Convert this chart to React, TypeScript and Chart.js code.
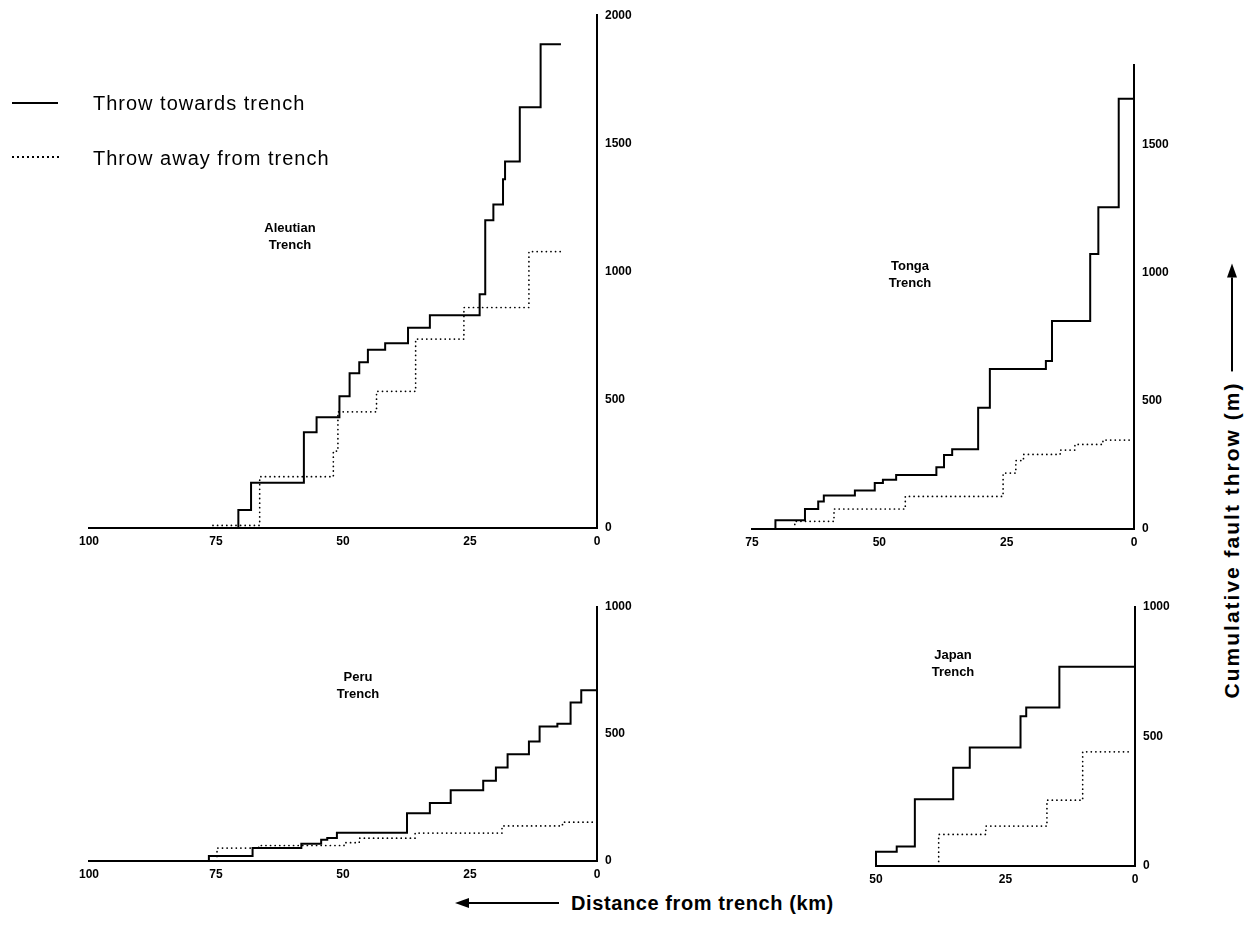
import React, { useEffect, useRef } from "react";
import { Chart, registerables } from "chart.js";

Chart.register(...registerables);

// ---------------- data ----------------
// Each series: distance (km) where a step starts, and cumulative throw (m) from that point on.
const aleutianSolidKm = [100, 70.6, 68.1, 57.7, 55.2, 50.7, 48.7, 46.8, 45.1, 41.7, 37.2, 32.9, 23.1, 22.0, 20.4, 18.5, 18.1, 15.2, 11.1, 7.1];
const aleutianSolidM = [0, 70, 176, 373, 432, 514, 604, 646, 695, 721, 781, 830, 912, 1200, 1262, 1360, 1429, 1641, 1887, 1887];
const aleutianDotKm = [76, 76, 66.4, 51.9, 51.0, 43.4, 35.7, 26.2, 13.4, 6.8];
const aleutianDotM = [0, 10, 200, 300, 453, 533, 737, 860, 1078, 1078];

const tongaSolidKm = [75, 70.4, 64.6, 62.0, 60.9, 54.8, 50.9, 49.3, 46.7, 38.8, 37.3, 35.7, 30.6, 28.3, 17.3, 16.1, 8.6, 7.0, 3.0, 0];
const tongaSolidM = [0, 34, 78, 107, 131, 150, 179, 192, 211, 241, 289, 311, 473, 624, 655, 811, 1073, 1255, 1678, 1678];
const tongaDotKm = [66.6, 66.6, 58.9, 44.9, 25.7, 23.2, 21.7, 14.5, 11.6, 6.1, 0.7];
const tongaDotM = [0, 30, 78, 127, 218, 267, 291, 308, 330, 347, 347];

const peruSolidKm = [100, 76.4, 67.8, 58.2, 54.3, 53.1, 51.2, 37.4, 32.9, 28.8, 22.4, 19.9, 17.6, 13.4, 11.3, 7.8, 5.2, 3.1, 0];
const peruSolidM = [0, 20, 51, 68, 84, 91, 111, 188, 228, 279, 316, 368, 420, 470, 530, 540, 624, 672, 672];
const peruDotKm = [74.8, 74.8, 66.6, 49.8, 46.8, 35.8, 18.7, 6.8, 0];
const peruDotM = [0, 51, 61, 72, 90, 110, 138, 153, 153];

const japanSolidKm = [50, 50, 46.0, 42.5, 35.1, 31.9, 22.1, 21.0, 14.6, 0];
const japanSolidM = [0, 55, 75, 258, 379, 458, 578, 612, 769, 769];
const japanDotKm = [37.9, 37.9, 28.8, 17.0, 10.1, 0.6];
const japanDotM = [0, 122, 154, 254, 441, 441];

const aleutianXTicks = [0, 25, 50, 75, 100];
const aleutianYTicks = [0, 500, 1000, 1500, 2000];
const tongaXTicks = [0, 25, 50, 75];
const tongaYTicks = [0, 500, 1000, 1500];
const peruXTicks = [0, 25, 50, 75, 100];
const peruYTicks = [0, 500, 1000];
const japanXTicks = [0, 25, 50];
const japanYTicks = [0, 500, 1000];

const aleutianTitle = ["Aleutian", "Trench"];
const tongaTitle = ["Tonga", "Trench"];
const peruTitle = ["Peru", "Trench"];
const japanTitle = ["Japan", "Trench"];

const legendLabels = ["Throw towards trench", "Throw away from trench"];
const xAxisTitle = "Distance from trench (km)";
const yAxisTitle = "Cumulative fault throw (m)";

// ---------------- helpers ----------------
const FONT = '"Liberation Sans", Arial, Helvetica, sans-serif';

function toPoints(km: number[], m: number[]) {
  return km.map((k, i) => ({ x: k, y: m[i] }));
}

type PanelProps = {
  solidKm: number[];
  solidM: number[];
  dotKm: number[];
  dotM: number[];
  xTicks: number[];
  yTicks: number[];
  xMax: number;
  yMax: number;
  left: number;
  top: number;
  width: number;
  height: number;
  padLeft: number;
  padTop: number;
};

function Panel(p: PanelProps) {
  const ref = useRef<HTMLCanvasElement | null>(null);
  useEffect(() => {
    if (!ref.current) return;
    const tickFont = { family: FONT, size: 12, weight: "bold" as const };
    const chart = new Chart(ref.current, {
      type: "line",
      data: {
        datasets: [
          {
            label: legendLabels[0],
            data: toPoints(p.solidKm, p.solidM),
            stepped: "before",
            borderColor: "#000",
            borderWidth: 2,
            pointRadius: 0,
            fill: false,
            clip: false as any,
          },
          {
            label: legendLabels[1],
            data: toPoints(p.dotKm, p.dotM),
            stepped: "before",
            borderColor: "#000",
            borderWidth: 1.7,
            borderDash: [0.1, 4.5],
            borderCapStyle: "round",
            pointRadius: 0,
            fill: false,
            clip: false as any,
          },
        ],
      },
      options: {
        animation: false,
        responsive: false,
        maintainAspectRatio: false,
        events: [],
        layout: { padding: { left: p.padLeft, top: p.padTop, right: 0, bottom: 0 } },
        plugins: { legend: { display: false }, tooltip: { enabled: false } },
        scales: {
          x: {
            type: "linear",
            reverse: true,
            min: 0,
            max: p.xMax,
            grid: { display: false, drawTicks: false },
            border: { display: true, color: "#000", width: 2 },
            ticks: {
              padding: 6,
              color: "#000",
              font: tickFont,
              maxRotation: 0,
              autoSkip: false,
              callback: (v: any) => String(v),
            },
            afterBuildTicks: (s: any) => {
              s.ticks = p.xTicks.map((v) => ({ value: v }));
            },
            afterFit: (s: any) => {
              s.height = 25;
            },
          },
          y: {
            type: "linear",
            position: "right",
            min: 0,
            max: p.yMax,
            grid: { display: false, drawTicks: false },
            border: { display: true, color: "#000", width: 2 },
            ticks: {
              padding: 8,
              color: "#000",
              font: tickFont,
              autoSkip: false,
              callback: (v: any) => String(v),
            },
            afterBuildTicks: (s: any) => {
              s.ticks = p.yTicks.map((v) => ({ value: v }));
            },
            afterFit: (s: any) => {
              s.width = 45;
            },
          },
        },
      },
    } as any);
    return () => chart.destroy();
  }, []);
  return (
    <canvas
      ref={ref}
      width={p.width}
      height={p.height}
      style={{ position: "absolute", left: p.left, top: p.top, width: p.width, height: p.height, display: "block" }}
    />
  );
}

function Title({ lines, cx, cy }: { lines: string[]; cx: number; cy: number }) {
  return (
    <div
      style={{
        position: "absolute",
        left: cx - 60,
        top: cy - 17,
        width: 120,
        textAlign: "center",
        fontFamily: FONT,
        fontWeight: "bold",
        fontSize: 13,
        lineHeight: "17px",
        color: "#000",
      }}
    >
      {lines.map((l, i) => (
        <div key={i}>{l}</div>
      ))}
    </div>
  );
}

export default function App() {
  return (
    <div
      style={{
        position: "absolute",
        left: 0,
        top: 0,
        width: 1249,
        height: 940,
        background: "#fff",
        overflow: "hidden",
        fontFamily: FONT,
      }}
    >
      {/* Aleutian: plot area x 89..597, y 15..528 */}
      <Panel
        solidKm={aleutianSolidKm}
        solidM={aleutianSolidM}
        dotKm={aleutianDotKm}
        dotM={aleutianDotM}
        xTicks={aleutianXTicks}
        yTicks={aleutianYTicks}
        xMax={100}
        yMax={2000}
        left={75}
        top={0}
        width={567}
        height={553}
        padLeft={14}
        padTop={15}
      />
      {/* Tonga: plot area x 752..1134, y 65..529 */}
      <Panel
        solidKm={tongaSolidKm}
        solidM={tongaSolidM}
        dotKm={tongaDotKm}
        dotM={tongaDotM}
        xTicks={tongaXTicks}
        yTicks={tongaYTicks}
        xMax={75}
        yMax={1810}
        left={737}
        top={40}
        width={442}
        height={514}
        padLeft={15}
        padTop={25}
      />
      {/* Peru: plot area x 89..597, y 607..861 */}
      <Panel
        solidKm={peruSolidKm}
        solidM={peruSolidM}
        dotKm={peruDotKm}
        dotM={peruDotM}
        xTicks={peruXTicks}
        yTicks={peruYTicks}
        xMax={100}
        yMax={1000}
        left={75}
        top={590}
        width={567}
        height={296}
        padLeft={14}
        padTop={17}
      />
      {/* Japan: plot area x 876..1135, y 607..866 */}
      <Panel
        solidKm={japanSolidKm}
        solidM={japanSolidM}
        dotKm={japanDotKm}
        dotM={japanDotM}
        xTicks={japanXTicks}
        yTicks={japanYTicks}
        xMax={50}
        yMax={1000}
        left={860}
        top={590}
        width={320}
        height={301}
        padLeft={16}
        padTop={17}
      />

      <Title lines={aleutianTitle} cx={290} cy={236} />
      <Title lines={tongaTitle} cx={910} cy={274} />
      <Title lines={peruTitle} cx={358} cy={685} />
      <Title lines={japanTitle} cx={953} cy={663} />

      {/* legend */}
      <div style={{ position: "absolute", left: 12, top: 102, width: 46, height: 0, borderTop: "2px solid #000" }} />
      <div
        style={{
          position: "absolute",
          left: 12,
          top: 156,
          width: 48,
          height: 2,
          backgroundImage: "repeating-linear-gradient(to right, #000 0px, #000 1.6px, transparent 1.6px, transparent 5px)",
        }}
      />
      <div
        style={{
          position: "absolute",
          left: 93,
          top: 91,
          fontSize: 20,
          lineHeight: "24px",
          letterSpacing: "1px",
          color: "#000",
          whiteSpace: "nowrap",
        }}
      >
        {legendLabels[0]}
      </div>
      <div
        style={{
          position: "absolute",
          left: 93,
          top: 146,
          fontSize: 20,
          lineHeight: "24px",
          letterSpacing: "1px",
          color: "#000",
          whiteSpace: "nowrap",
        }}
      >
        {legendLabels[1]}
      </div>

      {/* x axis title with arrow */}
      <div
        style={{
          position: "absolute",
          left: 455,
          top: 891,
          height: 24,
          display: "flex",
          alignItems: "center",
          whiteSpace: "nowrap",
        }}
      >
        <div
          style={{
            width: 0,
            height: 0,
            borderTop: "5px solid transparent",
            borderBottom: "5px solid transparent",
            borderRight: "14px solid #000",
          }}
        />
        <div style={{ width: 90, height: 2, background: "#000" }} />
        <div
          style={{
            marginLeft: 12,
            fontWeight: "bold",
            fontSize: 20,
            letterSpacing: "0.6px",
            color: "#000",
          }}
        >
          {xAxisTitle}
        </div>
      </div>

      {/* y axis title with arrow */}
      <div
        style={{
          position: "absolute",
          left: 1232,
          top: 481,
          transform: "translate(-50%, -50%) rotate(-90deg)",
          display: "flex",
          alignItems: "center",
          whiteSpace: "nowrap",
        }}
      >
        <div
          style={{
            fontWeight: "bold",
            fontSize: 21,
            letterSpacing: "2px",
            color: "#000",
          }}
        >
          {yAxisTitle}
        </div>
        <div style={{ marginLeft: 10, width: 94, height: 2, background: "#000" }} />
        <div
          style={{
            width: 0,
            height: 0,
            borderTop: "5px solid transparent",
            borderBottom: "5px solid transparent",
            borderLeft: "14px solid #000",
          }}
        />
      </div>
    </div>
  );
}
